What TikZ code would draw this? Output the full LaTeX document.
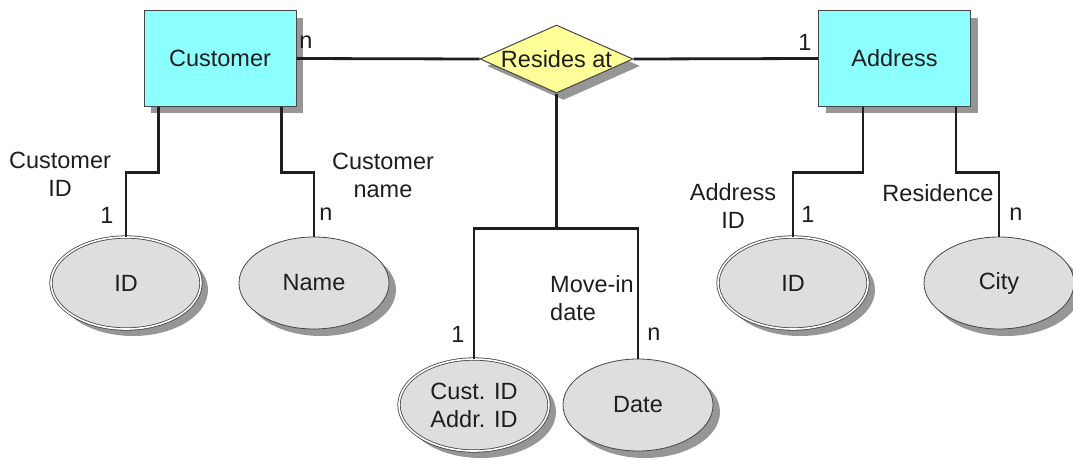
\documentclass[tikz,border=0pt]{standalone}
\usepackage{fontspec}
\setmainfont{Liberation Sans}
\usetikzlibrary{shapes.geometric,shadows,calc}
\definecolor{entfill}{RGB}{140,255,255}
\definecolor{relfill}{RGB}{255,255,153}
\definecolor{attfill}{RGB}{222,222,222}
\definecolor{edgegray}{RGB}{70,70,70}
\definecolor{shadowgray}{RGB}{150,150,150}
\definecolor{inkgray}{RGB}{30,30,30}

\begin{document}
\begin{tikzpicture}[x=1pt,y=-1pt,
  every node/.style={font=\fontsize{23.5}{28}\selectfont, text=inkgray},
  castshadow/.style={drop shadow={shadow xshift=7pt,shadow yshift=-7pt,fill=shadowgray,opacity=1}},
  entity/.style={rectangle,draw=edgegray,line width=1pt,fill=entfill,
    minimum width=152pt,minimum height=95pt,inner sep=0pt,castshadow},
  relation/.style={diamond,draw=edgegray,line width=1pt,fill=relfill,
    minimum width=153pt,minimum height=68pt,inner sep=0pt,castshadow},
  attr/.style={ellipse,draw=edgegray,line width=0.8pt,fill=attfill,align=center,
    minimum width=150pt,minimum height=92pt,inner sep=0pt,castshadow},
  keyattr/.style={attr,double=white,double distance=1.6pt},
  link/.style={line width=2.8pt,inkgray},
  card/.style={inner sep=0pt},
  role/.style={inner sep=0pt,align=center},
]
\useasboundingbox (0,0) rectangle (1073,460);

% entities and relationship
\node[entity] (cust) at (220,58.5) {Customer};
\node[entity] (addr) at (894.5,58.5) {Address};
\node[relation,label={[inner sep=0pt]center:Resides at}] (rel) at (556.5,59) {};

% attributes
\node[keyattr] (cid)   at (126,283) {ID};
\node[attr]    (cname) at (314,283) {Name};
\node[keyattr] (key)   at (474,405) {Cust. ID\\Addr. ID};
\node[attr]    (date)  at (638,405) {Date};
\node[keyattr] (aid)   at (793,283) {ID};
\node[attr]    (city)  at (999,283) {City};

% relationship links
\draw[link] (cust.east) -- (rel.west);
\draw[link] (rel.east) -- (addr.west);
\draw[link] (rel.south) -- ++(0,135) coordinate (fork);
\draw[link] (key.north) |- (fork) -| (date.north);

% attribute links
\draw[link] ([xshift=15pt]cust.south west) -- ++(0,66) -| (cid.north);
\draw[link] ([xshift=-15pt]cust.south east) -- ++(0,66) -| (cname.north);
\draw[link] ([xshift=45pt]addr.south west) -- ++(0,66) -| (aid.north);
\draw[link] ([xshift=-15pt]addr.south east) -- ++(0,66) -| (city.north);

% cardinalities
\node[card] (c1) at (306,42) {n};
\node[card] (c2) at (805,42) {1};
\node[card] (c3) at (107,215) {1};
\node[card] (c4) at (326,214) {n};
\node[card] (c5) at (458,334) {1};
\node[card] (c6) at (654,334) {n};
\node[card] (c7) at (808,214) {1};
\node[card] (c8) at (1016,214) {n};

% role names
\node[role] (r1) at (60,174) {Customer\\ID};
\node[role] (r2) at (383,175) {Customer\\name};
\node[role,align=left,anchor=west] (r3) at (550,298) {Move-in\\date};
\node[role] (r4) at (733,206) {Address\\ID};
\node[role] (r5) at (938,193) {Residence};
\end{tikzpicture}
\end{document}
